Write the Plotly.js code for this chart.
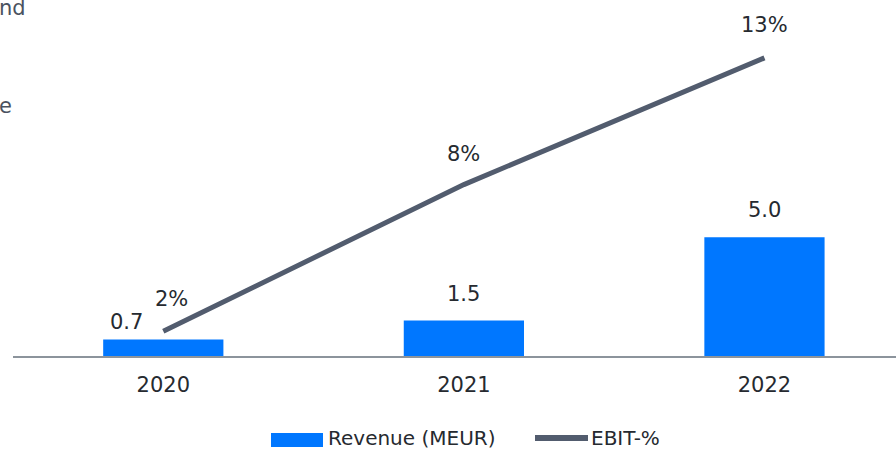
<!DOCTYPE html>
<html>
<head>
<meta charset="utf-8">
<script src="https://cdn.plot.ly/plotly-3.0.1.min.js"></script>
<style>html,body{margin:0;padding:0;background:#fff;}#chart{width:896px;height:451px;}</style>
</head>
<body>
<div id="chart"></div>
<script>
const categories = ['2020', '2021', '2022'];
const revenue = [0.7, 1.5, 5.0];
const revenueLabels = ['0.7', '1.5', '5.0'];
const ebitPct = [2, 7.9, 13];
const ebitLabels = ['2%', '8%', '13%'];
const legendNames = ['Revenue (MEUR)', 'EBIT-%'];
const cutTexts = ['nd', 'e'];

const FONT = 'DejaVu Sans, sans-serif';
const TEXT = '#262a30';
const BLUE = '#0077ff';
const LINE = '#525c6e';

// plot area in pixels: left 13, right 896, top 0, bottom 356
const L = 13, W = 883, B = 356;
const px = x => (x - L) / W;
const py = y => (B - y) / B;

const traces = [
  {
    type: 'bar', x: categories, y: revenue, name: legendNames[0],
    marker: {color: BLUE}, width: 0.4, hoverinfo: 'skip', showlegend: false
  },
  {
    type: 'scatter', mode: 'lines', x: categories, y: ebitPct, yaxis: 'y2', name: legendNames[1],
    line: {color: LINE, width: 5}, hoverinfo: 'skip', showlegend: false
  }
];

const annotations = [];
const barShift = [[-37, 17], [0, 26], [0, 27]];
categories.forEach((c, i) => {
  annotations.push({x: i, y: revenue[i], xref: 'x', yref: 'y', text: revenueLabels[i], showarrow: false,
    xanchor: 'center', yanchor: 'middle', xshift: barShift[i][0], yshift: barShift[i][1],
    font: {family: FONT, size: 21, color: TEXT}});
});
const lineShift = [[8, 32], [0, 31], [0, 33]];
categories.forEach((c, i) => {
  annotations.push({x: i, y: ebitPct[i], xref: 'x', yref: 'y2', text: ebitLabels[i], showarrow: false,
    xanchor: 'center', yanchor: 'middle', xshift: lineShift[i][0], yshift: lineShift[i][1],
    font: {family: FONT, size: 21, color: TEXT}});
});
// legend texts
annotations.push({xref: 'paper', yref: 'paper', x: px(326), y: py(438), text: legendNames[0], showarrow: false,
  xanchor: 'left', yanchor: 'middle', font: {family: FONT, size: 20, color: TEXT}});
annotations.push({xref: 'paper', yref: 'paper', x: px(589), y: py(438), text: legendNames[1], showarrow: false,
  xanchor: 'left', yanchor: 'middle', font: {family: FONT, size: 20, color: TEXT}});
// cut-off texts at top-left
annotations.push({xref: 'paper', yref: 'paper', x: px(-3), y: py(8), text: cutTexts[0], showarrow: false,
  xanchor: 'left', yanchor: 'middle', font: {family: FONT, size: 21, color: '#4a5260'}});
annotations.push({xref: 'paper', yref: 'paper', x: px(-3), y: py(106), text: cutTexts[1], showarrow: false,
  xanchor: 'left', yanchor: 'middle', font: {family: FONT, size: 21, color: '#4a5260'}});

const shapes = [
  {type: 'rect', xref: 'paper', yref: 'paper', x0: px(271), x1: px(323), y0: py(447), y1: py(433),
   fillcolor: BLUE, line: {width: 0}},
  {type: 'line', xref: 'paper', yref: 'paper', x0: px(535), x1: px(588), y0: py(438), y1: py(438),
   line: {color: LINE, width: 6}}
];

const layout = {
  width: 896, height: 451,
  margin: {l: L, r: 0, t: 0, b: 451 - B},
  paper_bgcolor: '#fff', plot_bgcolor: '#fff',
  showlegend: false,
  xaxis: {
    type: 'category', range: [-0.5, 2.4376], showgrid: false, zeroline: false,
    showline: true, linecolor: '#8c949c', linewidth: 2, ticks: '',
    ticklabelstandoff: 9,
    tickfont: {family: FONT, size: 21, color: TEXT}, fixedrange: true
  },
  yaxis: {range: [0, 15], visible: false, showgrid: false, zeroline: false, fixedrange: true},
  yaxis2: {range: [1.0, 15.33], overlaying: 'y', side: 'right', visible: false, showgrid: false, zeroline: false, fixedrange: true},
  annotations: annotations,
  shapes: shapes
};

Plotly.newPlot('chart', traces, layout, {displayModeBar: false, staticPlot: true});
</script>
</body>
</html>
